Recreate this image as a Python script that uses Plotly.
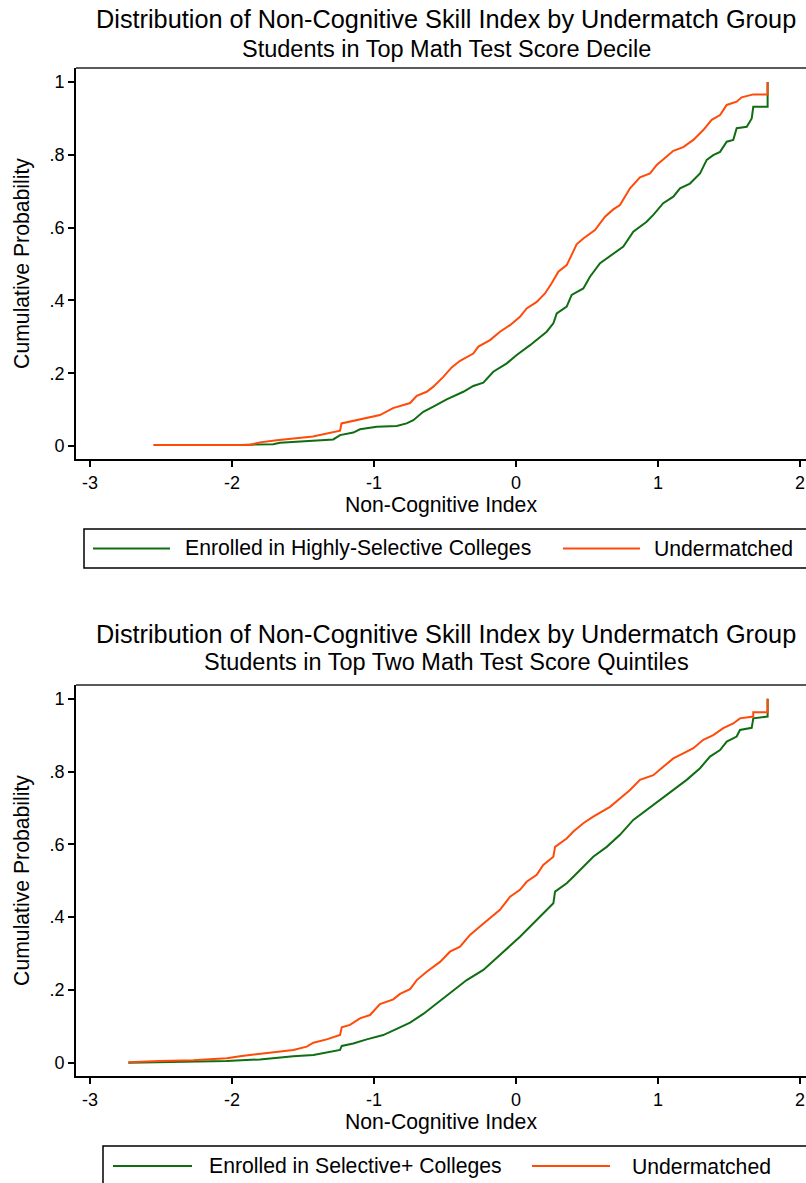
import plotly.graph_objects as go

# ---------------- data ----------------
# Panel 1: Students in Top Math Test Score Decile
p1_green_x = [-1.944, -1.709, -1.662, -1.474, -1.287, -1.239, -1.146, -1.099, -0.981, -0.840,
              -0.770, -0.723, -0.653, -0.582, -0.488, -0.371, -0.301, -0.230, -0.160, -0.065,
              0.005, 0.099, 0.146, 0.216, 0.263, 0.287, 0.357, 0.392, 0.474, 0.521,
              0.592, 0.685, 0.756, 0.826, 0.920, 0.967, 1.037, 1.108, 1.155, 1.225,
              1.296, 1.343, 1.389, 1.437, 1.484, 1.530, 1.554, 1.625, 1.660, 1.671,
              1.772, 1.772]
p1_green_y = [0.003, 0.005, 0.009, 0.014, 0.018, 0.030, 0.037, 0.046, 0.053, 0.055,
              0.062, 0.071, 0.094, 0.108, 0.128, 0.149, 0.165, 0.174, 0.204, 0.227,
              0.250, 0.277, 0.291, 0.314, 0.337, 0.364, 0.383, 0.415, 0.433, 0.465,
              0.502, 0.529, 0.548, 0.589, 0.616, 0.635, 0.667, 0.685, 0.708, 0.721,
              0.749, 0.786, 0.799, 0.808, 0.836, 0.841, 0.873, 0.877, 0.900, 0.932,
              0.932, 1.000]
p1_orange_x = [-2.554, -1.873, -1.803, -1.685, -1.430, -1.239, -1.229, -1.099, -0.958, -0.866,
               -0.746, -0.699, -0.629, -0.582, -0.512, -0.453, -0.394, -0.301, -0.265, -0.183,
               -0.113, -0.042, 0.028, 0.075, 0.146, 0.204, 0.251, 0.298, 0.357, 0.392,
               0.427, 0.474, 0.556, 0.627, 0.685, 0.732, 0.803, 0.873, 0.944, 0.991,
               1.061, 1.108, 1.178, 1.249, 1.319, 1.378, 1.437, 1.484, 1.554, 1.589,
               1.671, 1.772, 1.772]
p1_orange_y = [0.003, 0.003, 0.010, 0.016, 0.026, 0.042, 0.062, 0.073, 0.085, 0.104,
               0.118, 0.138, 0.149, 0.163, 0.190, 0.216, 0.234, 0.254, 0.273, 0.291,
               0.314, 0.332, 0.355, 0.378, 0.396, 0.419, 0.447, 0.479, 0.497, 0.525,
               0.554, 0.570, 0.593, 0.630, 0.650, 0.662, 0.708, 0.738, 0.749, 0.772,
               0.795, 0.811, 0.821, 0.841, 0.868, 0.896, 0.909, 0.937, 0.946, 0.958,
               0.966, 0.966, 1.000]

# Panel 2: Students in Top Two Math Test Score Quintiles
p2_green_x = [-2.730, -2.273, -2.037, -1.803, -1.568, -1.427, -1.333, -1.239, -1.227, -1.146,
              -1.051, -0.935, -0.840, -0.746, -0.653, -0.558, -0.465, -0.347, -0.230, -0.136,
              -0.042, 0.028, 0.099, 0.169, 0.263, 0.275, 0.357, 0.404, 0.474, 0.544,
              0.639, 0.732, 0.826, 0.920, 1.014, 1.108, 1.202, 1.296, 1.366, 1.437,
              1.484, 1.554, 1.577, 1.660, 1.671, 1.772, 1.772]
p2_green_y = [0.000, 0.002, 0.005, 0.009, 0.018, 0.021, 0.027, 0.035, 0.046, 0.053,
              0.064, 0.076, 0.093, 0.110, 0.134, 0.163, 0.191, 0.227, 0.255, 0.287,
              0.321, 0.346, 0.374, 0.401, 0.438, 0.470, 0.493, 0.511, 0.539, 0.566,
              0.593, 0.626, 0.667, 0.694, 0.722, 0.749, 0.777, 0.809, 0.841, 0.859,
              0.882, 0.896, 0.914, 0.920, 0.946, 0.951, 1.000]
p2_orange_x = [-2.730, -2.507, -2.273, -2.037, -1.944, -1.803, -1.685, -1.568, -1.474, -1.427,
               -1.333, -1.239, -1.227, -1.169, -1.099, -1.028, -0.958, -0.864, -0.817, -0.746,
               -0.699, -0.629, -0.535, -0.465, -0.394, -0.324, -0.254, -0.183, -0.113, -0.042,
               0.028, 0.075, 0.146, 0.192, 0.263, 0.275, 0.357, 0.404, 0.474, 0.544,
               0.604, 0.662, 0.732, 0.803, 0.873, 0.967, 1.037, 1.108, 1.178, 1.249,
               1.319, 1.389, 1.460, 1.530, 1.577, 1.671, 1.671, 1.772, 1.772]
p2_orange_y = [0.001, 0.005, 0.007, 0.012, 0.018, 0.024, 0.029, 0.035, 0.044, 0.055,
               0.064, 0.076, 0.097, 0.104, 0.122, 0.131, 0.161, 0.174, 0.189, 0.202,
               0.227, 0.250, 0.277, 0.305, 0.319, 0.351, 0.374, 0.397, 0.420, 0.456,
               0.475, 0.497, 0.516, 0.543, 0.566, 0.593, 0.616, 0.635, 0.658, 0.676,
               0.690, 0.703, 0.726, 0.749, 0.777, 0.790, 0.813, 0.836, 0.850, 0.864,
               0.887, 0.900, 0.919, 0.932, 0.946, 0.951, 0.963, 0.963, 1.000]

x_tick_vals = [-3, -2, -1, 0, 1, 2]
x_tick_text = ["-3", "-2", "-1", "0", "1", "2"]
y_tick_vals = [0, 0.2, 0.4, 0.6, 0.8, 1]
y_tick_text = ["0", ".2", ".4", ".6", ".8", "1"]

titles = ["Distribution of Non-Cognitive Skill Index by Undermatch Group",
          "Distribution of Non-Cognitive Skill Index by Undermatch Group"]
subtitles = ["Students in Top Math Test Score Decile",
             "Students in Top Two Math Test Score Quintiles"]
green_names = ["Enrolled in Highly-Selective Colleges", "Enrolled in Selective+ Colleges"]
orange_name = "Undermatched"
x_title = "Non-Cognitive Index"
y_title = "Cumulative Probability"

# ---------------- styling ----------------
W, H = 806, 1183
FONT = "Liberation Sans, Arial, Helvetica, sans-serif"
GREEN = "#0f6e12"
ORANGE = "#ff4a0a"
TITLE_SIZE = 25.3
SUB_SIZE = 23.5
AXTITLE_SIZE = 21.2
TICK_SIZE = 18
LEGEND_SIZE = 21.2


def py(p):  # pixel y -> paper
    return 1 - p / H


def px(p):  # pixel x -> paper
    return p / W


fig = go.Figure()

panels = [
    (p1_green_x, p1_green_y, p1_orange_x, p1_orange_y, "x", "y"),
    (p2_green_x, p2_green_y, p2_orange_x, p2_orange_y, "x2", "y2"),
]
for i, (gx, gy, ox, oy, xa, ya) in enumerate(panels):
    fig.add_trace(go.Scatter(x=gx, y=gy, mode="lines", name=green_names[i],
                             line=dict(color=GREEN, width=2), xaxis=xa, yaxis=ya,
                             showlegend=False))
    fig.add_trace(go.Scatter(x=ox, y=oy, mode="lines", name=orange_name,
                             line=dict(color=ORANGE, width=2), xaxis=xa, yaxis=ya,
                             showlegend=False))

x_left, x_right = 76, 806
xrange_ = [(x_left - 516) / 142, (x_right - 516) / 142]

panel_geom = [
    dict(top=68, bot=459, zero=446, one=82),
    dict(top=685, bot=1076, zero=1062.7, one=698.7),
]

axis_common = dict(showgrid=False, zeroline=False, showline=True, linecolor="black",
                   linewidth=2, ticks="outside", ticklen=6, tickwidth=1.5,
                   tickcolor="black",
                   tickfont=dict(family=FONT, size=TICK_SIZE, color="black"))

layout = dict(width=W, height=H, margin=dict(l=0, r=0, t=0, b=0),
              plot_bgcolor="white", paper_bgcolor="white",
              font=dict(family=FONT, color="black"), showlegend=False)

for i, g in enumerate(panel_geom):
    scale = (g["zero"] - g["one"])
    yr = [(g["zero"] - g["bot"]) / scale, (g["zero"] - g["top"]) / scale]
    xa = "xaxis" if i == 0 else "xaxis2"
    ya = "yaxis" if i == 0 else "yaxis2"
    layout[xa] = dict(axis_common, domain=[px(x_left), 1], range=xrange_,
                      tickvals=x_tick_vals, ticktext=x_tick_text,
                      anchor="y" if i == 0 else "y2",
                      title=dict(text=x_title, font=dict(family=FONT, size=AXTITLE_SIZE),
                                 standoff=4))
    layout[ya] = dict(axis_common, domain=[py(g["bot"]), py(g["top"])], range=yr,
                      tickvals=y_tick_vals, ticktext=y_tick_text,
                      anchor="x" if i == 0 else "x2",
                      title=dict(text=y_title, font=dict(family=FONT, size=AXTITLE_SIZE),
                                 standoff=14))

fig.update_layout(**layout)

# top border of each plot region (its right side lies outside the image)
for i in range(2):
    xr = "x domain" if i == 0 else "x2 domain"
    yr_ = "y domain" if i == 0 else "y2 domain"
    fig.add_shape(type="line", xref=xr, yref=yr_, x0=0, x1=1, y0=1, y1=1,
                  line=dict(color="#5a5a5a", width=2))

# titles
title_y = [19, 634]
sub_y = [48.5, 662]
for i in range(2):
    fig.add_annotation(text=titles[i], xref="paper", yref="paper", x=px(446), y=py(title_y[i]),
                       showarrow=False, xanchor="center", yanchor="middle",
                       font=dict(family=FONT, size=TITLE_SIZE, color="black"))
    fig.add_annotation(text=subtitles[i], xref="paper", yref="paper", x=px(446), y=py(sub_y[i]),
                       showarrow=False, xanchor="center", yanchor="middle",
                       font=dict(family=FONT, size=SUB_SIZE, color="black"))

# legends (box, line samples, labels)
legends = [
    dict(box=(84, 529, 830, 568), ly=548.5, g=(93, 170), gt=183, o=(563, 640), ot=652),
    dict(box=(103, 1146, 830, 1200), ly=1166, g=(113, 192), gt=207, o=(532, 610), ot=630),
]
for i, L in enumerate(legends):
    x0, y0, x1, y1 = L["box"]
    fig.add_shape(type="rect", xref="paper", yref="paper",
                  x0=px(x0), x1=px(x1), y0=py(y1), y1=py(y0),
                  line=dict(color="black", width=1.5), fillcolor="rgba(0,0,0,0)")
    fig.add_shape(type="line", xref="paper", yref="paper",
                  x0=px(L["g"][0]), x1=px(L["g"][1]), y0=py(L["ly"]), y1=py(L["ly"]),
                  line=dict(color=GREEN, width=2))
    fig.add_shape(type="line", xref="paper", yref="paper",
                  x0=px(L["o"][0]), x1=px(L["o"][1]), y0=py(L["ly"]), y1=py(L["ly"]),
                  line=dict(color=ORANGE, width=2))
    fig.add_annotation(text=green_names[i], xref="paper", yref="paper",
                       x=px(L["gt"]), y=py(L["ly"]), showarrow=False,
                       xanchor="left", yanchor="middle",
                       font=dict(family=FONT, size=LEGEND_SIZE, color="black"))
    fig.add_annotation(text=orange_name, xref="paper", yref="paper",
                       x=px(L["ot"]), y=py(L["ly"]), showarrow=False,
                       xanchor="left", yanchor="middle",
                       font=dict(family=FONT, size=LEGEND_SIZE, color="black"))

fig.write_html("out.html")
